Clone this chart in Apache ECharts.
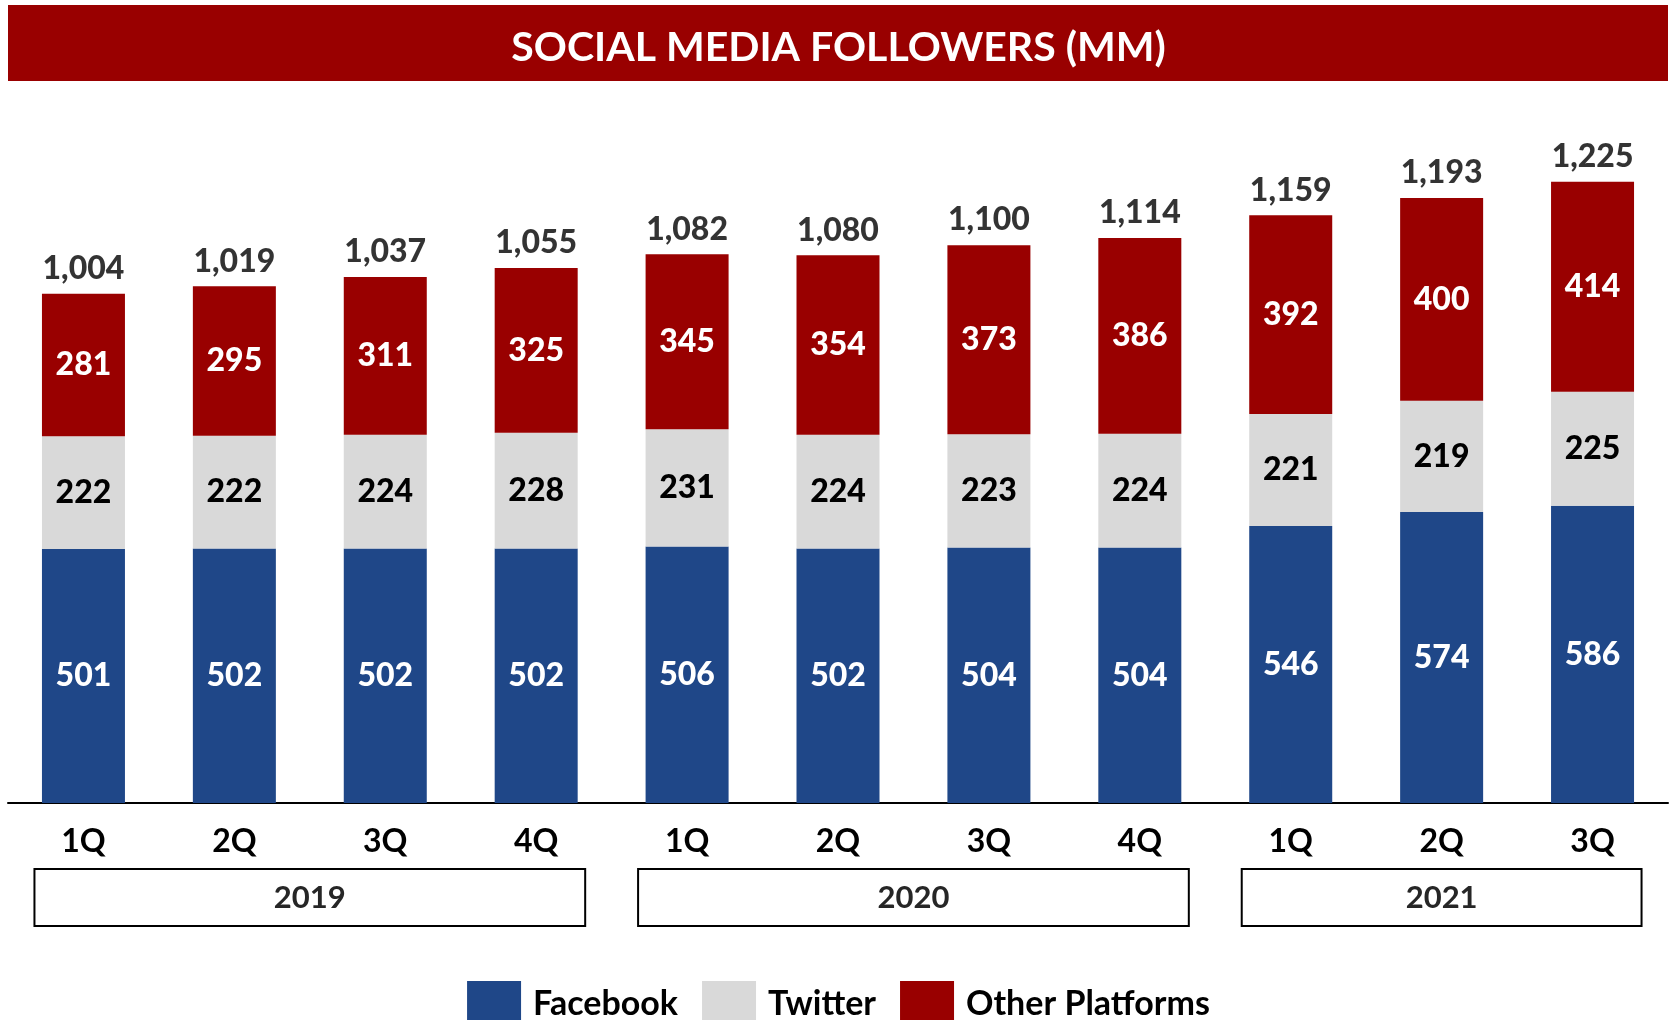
<!DOCTYPE html>
<html>
<head>
<meta charset="utf-8">
<title>Social Media Followers</title>
<script src="https://cdn.jsdelivr.net/npm/echarts@6/dist/echarts.min.js"></script>
<style>
html,body{margin:0;padding:0;background:#fff;}
#chart{width:1677px;height:1020px;}
</style>
</head>
<body>
<div id="chart"></div>
<script>
// quarters on the axis, one year per group
var quarters = ['1Q','2Q','3Q','4Q','1Q','2Q','3Q','4Q','1Q','2Q','3Q']
var quarterYear = ['2019','2019','2019','2019','2020','2020','2020','2020','2021','2021','2021']
var years = ['2019','2020','2021']

var facebook = [501,502,502,502,506,502,504,504,546,574,586]
var twitter = [222,222,224,228,231,224,223,224,221,219,225]
var otherPlatforms = [281,295,311,325,345,354,373,386,392,400,414]
var totals = [1004,1019,1037,1055,1082,1080,1100,1114,1159,1193,1225]

var FONT = 'Lato'
var HEAVY = 900
var blue = '#1F4788', grey = '#D9D9D9', red = '#990000'

// unique keys so the category axis never merges repeated quarter names
var cats = quarters.map(function(q,i){return q+' '+quarterYear[i]})

var myChart = echarts.init(document.getElementById('chart'))

function inLabel(color){
  return {
    show:true,
    position:'inside',
    color:color,
    fontFamily:FONT,
    fontWeight:HEAVY,
    fontSize:32
  }
}

var option = {
  animation:false,
  title:{
    text:'SOCIAL MEDIA FOLLOWERS (MM)',
    left:'center',
    top:22,
    textStyle:{color:'#fff',fontFamily:FONT,fontWeight:'bold',fontSize:41,lineHeight:41}
  },
  grid:{left:8,right:9,top:93,bottom:217,containLabel:false},
  legend:{
    data:['Facebook','Twitter','Other Platforms'],
    left:'center',
    top:981,
    padding:0,
    icon:'rect',
    itemWidth:54,
    itemHeight:46,
    itemGap:24,
    textStyle:{color:'#000',fontFamily:FONT,fontWeight:'bold',fontSize:34,padding:[0,0,0,7]}
  },
  xAxis:{
    type:'category',
    data:cats,
    axisLine:{lineStyle:{color:'#000',width:2}},
    axisTick:{show:false},
    axisLabel:{
      margin:23,
      color:'#000',
      fontFamily:FONT,
      fontWeight:'bold',
      fontSize:32,
      lineHeight:32,
      formatter:function(v){return v.split(' ')[0]}
    }
  },
  yAxis:{
    type:'value',
    min:0,
    max:1400,
    show:false,
    splitLine:{show:false}
  },
  series:[
    {name:'Facebook',type:'bar',stack:'all',barWidth:'55%',data:facebook,
     itemStyle:{color:blue},label:inLabel('#fff')},
    {name:'Twitter',type:'bar',stack:'all',data:twitter,
     itemStyle:{color:grey},label:inLabel('#000')},
    {name:'Other Platforms',type:'bar',stack:'all',data:otherPlatforms,
     itemStyle:{color:red},label:inLabel('#fff')},
    {name:'Total',type:'scatter',data:totals,symbolSize:0,silent:true,
     label:{
       show:true,
       position:'top',
       distance:9,
       color:'#000',
       fontFamily:FONT,
       fontWeight:HEAVY,
       fontSize:32,
       formatter:function(p){return p.value.toLocaleString('en-US')}
     }}
  ]
}

myChart.setOption(option)

// red title band plus one outlined box per year under its quarters
function buildGraphic(){
  var g = [{
    type:'rect',z:-1,
    shape:{x:8,y:5,width:1660,height:76},
    style:{fill:red}
  }]
  var c0 = myChart.convertToPixel({xAxisIndex:0},cats[0])
  var c1 = myChart.convertToPixel({xAxisIndex:0},cats[1])
  var band = c1-c0
  var half = band*0.55/2+7.5
  years.forEach(function(y){
    var first = quarterYear.indexOf(y), last = quarterYear.lastIndexOf(y)
    var x0 = myChart.convertToPixel({xAxisIndex:0},cats[first])-half
    var x1 = myChart.convertToPixel({xAxisIndex:0},cats[last])+half
    g.push({
      type:'rect',
      shape:{x:x0,y:869,width:x1-x0,height:57},
      style:{fill:'#fff',stroke:'#000',lineWidth:2}
    })
    g.push({
      type:'text',
      x:(x0+x1)/2,y:898,
      style:{text:y,fill:'#262626',font:'bold 31px '+FONT,textAlign:'center',textVerticalAlign:'middle'}
    })
  })
  return g
}

myChart.setOption({graphic:buildGraphic()})
window.addEventListener('resize',function(){myChart.resize()})
</script>
</body>
</html>
